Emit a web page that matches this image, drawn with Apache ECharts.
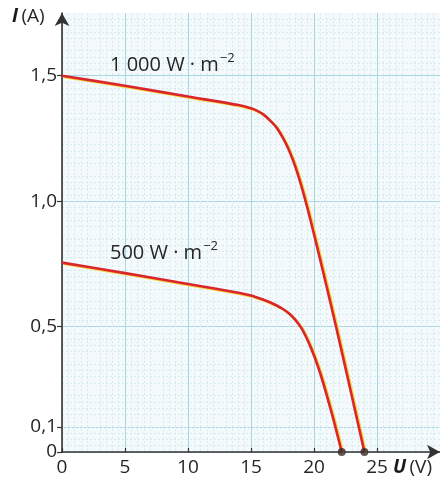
<!DOCTYPE html>
<html>
<head>
<meta charset="utf-8">
<script src="https://cdn.jsdelivr.net/npm/echarts@6/dist/echarts.min.js"></script>
<style>
html,body{margin:0;padding:0;background:#fff;}
#c{width:440px;height:482px;}
</style>
</head>
<body>
<div id="c"></div>
<script>
// U (V) / I (A) for 1000 W·m^-2
const u1000 = [0, 5, 10, 14, 15, 15.5, 16, 16.5, 17, 17.5, 18, 18.5, 19, 19.5, 20, 20.5, 21, 21.5, 22, 23, 24];
const i1000 = [1.50, 1.46, 1.417, 1.383, 1.370, 1.360, 1.345, 1.322, 1.295, 1.255, 1.205, 1.140, 1.060, 0.968, 0.868, 0.765, 0.660, 0.553, 0.445, 0.223, 0];
// U (V) / I (A) for 500 W·m^-2
const u500 = [0, 5, 10, 14, 15, 16, 16.5, 17, 17.5, 18, 18.5, 19, 19.5, 20, 20.5, 21, 21.5, 22.2];
const i500 = [0.755, 0.713, 0.670, 0.635, 0.624, 0.607, 0.597, 0.585, 0.571, 0.553, 0.528, 0.494, 0.445, 0.385, 0.313, 0.228, 0.138, 0];
const xTicks = [0, 5, 10, 15, 20, 25];
const yTicks = [0, 0.1, 0.5, 1.0, 1.5];
const label1000 = '1 000 W · m';
const label500 = '500 W · m';

const FONT = '"Open Sans", "Liberation Sans", sans-serif';
const TXT = '#262626';
const pair = (xs, ys) => xs.map((x, k) => [x, ys[k]]);
const fmtY = v => v === 0 ? '0' : v.toFixed(1).replace('.', ',');

const curveStyle = {
  color: '#d9262c', width: 2.6,
  shadowColor: '#f6d23a', shadowBlur: 0, shadowOffsetX: 1.5, shadowOffsetY: 1.2
};
const supRich = {
  a: {fontSize: 20, fontFamily: FONT, fill: TXT, verticalAlign: 'bottom'},
  s: {fontSize: 13, fontFamily: FONT, fill: TXT, verticalAlign: 'bottom', padding: [0, 0, 10, 1]}
};

const chart = echarts.init(document.getElementById('c'), null, {renderer: 'canvas'});
chart.setOption({
  animation: false,
  backgroundColor: '#ffffff',
  grid: {left: 62, top: 13, right: 0, bottom: 30, show: true, backgroundColor: '#f4fafc', borderWidth: 0},
  xAxis: {
    type: 'value', min: 0, max: 30, interval: 2.5,
    axisLine: {show: true, symbol: ['none', 'arrow'], symbolSize: [11, 13], lineStyle: {color: '#333', width: 1.6}},
    axisTick: {show: true, customValues: xTicks, length: 4, inside: true, lineStyle: {color: '#333', width: 1.2}},
    axisLabel: {customValues: xTicks, color: TXT, fontSize: 19, fontFamily: FONT, margin: 6},
    splitLine: {show: true, lineStyle: {color: '#a6d7e3', width: 1}},
    minorTick: {show: false, splitNumber: 5},
    minorSplitLine: {show: true, lineStyle: {color: '#d3ebf1', width: 1, type: [2, 2]}}
  },
  yAxis: {
    type: 'value', min: 0, max: 1.75, interval: 0.125,
    axisLine: {show: true, symbol: ['none', 'arrow'], symbolSize: [11, 13], lineStyle: {color: '#333', width: 1.6}},
    axisTick: {show: true, customValues: yTicks, length: 5, lineStyle: {color: '#333', width: 1.2}},
    axisLabel: {customValues: yTicks, formatter: fmtY, color: TXT, fontSize: 19, fontFamily: FONT, margin: 5},
    splitLine: {show: true, lineStyle: {color: '#a6d7e3', width: 1}},
    minorTick: {show: false, splitNumber: 5},
    minorSplitLine: {show: true, lineStyle: {color: '#d3ebf1', width: 1, type: [2, 2]}}
  },
  graphic: [
    {type: 'text', left: 110, top: 52, z: 10, style: {text: '{a|' + label1000 + '}{s|−2}', rich: supRich}},
    {type: 'text', left: 110, top: 240, z: 10, style: {text: '{a|' + label500 + '}{s|−2}', rich: supRich}},
    {type: 'text', left: 12, top: 7, style: {
      text: '{b|I} {n|(A)}',
      rich: {b: {fontSize: 19, fontFamily: FONT, fontWeight: 'bold', fontStyle: 'italic', fill: '#1a1a1a'},
             n: {fontSize: 19, fontFamily: FONT, fill: TXT}}
    }},
    {type: 'text', left: 393, top: 458, style: {
      text: '{b|U} {n|(V)}',
      rich: {b: {fontSize: 19, fontFamily: FONT, fontWeight: 'bold', fontStyle: 'italic', fill: '#1a1a1a'},
             n: {fontSize: 19, fontFamily: FONT, fill: TXT}}
    }}
  ],
  series: [
    {type: 'line', data: pair(u1000, i1000), smooth: 0.3, symbol: 'none', lineStyle: curveStyle, z: 3},
    {type: 'line', data: pair(u500, i500), smooth: 0.3, symbol: 'none', lineStyle: curveStyle, z: 3},
    {type: 'scatter', data: [[u1000[u1000.length - 1], 0], [u500[u500.length - 1], 0]],
     symbol: 'circle', symbolSize: 8, itemStyle: {color: '#3b2b2b'}, z: 5}
  ]
});
</script>
</body>
</html>
